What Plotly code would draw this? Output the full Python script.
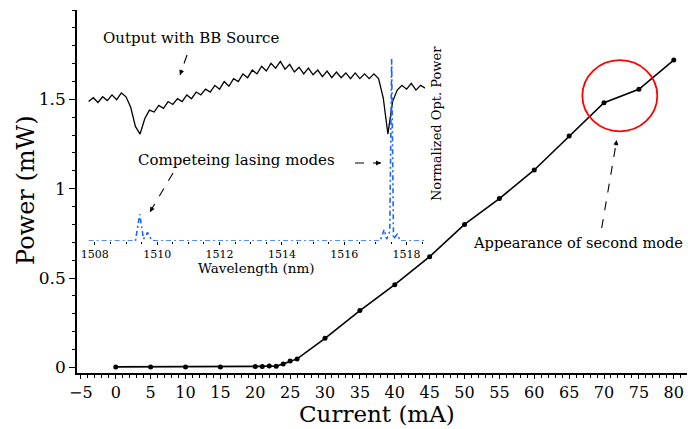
import plotly.graph_objects as go

# ---- main L-I curve ----
current_mA = [0, 5, 10, 15, 20, 21, 22, 23, 24, 25, 26, 30, 35, 40, 45, 50, 55, 60, 65, 70, 75, 80]
power_mW = [0.003, 0.003, 0.003, 0.003, 0.005, 0.006, 0.008, 0.007, 0.02, 0.036, 0.048, 0.163,
            0.318, 0.463, 0.62, 0.80, 0.945, 1.105, 1.295, 1.481, 1.556, 1.72]
x_ticks = list(range(-5, 81, 5))
y_ticks = [0, 0.5, 1, 1.5]

# ---- inset spectra ----
bb_wavelength = [1507.80 + 0.15 * k for k in range(73)]
bb_power = [0.73, 0.75, 0.725, 0.755, 0.735, 0.765, 0.74, 0.775, 0.755, 0.70,
            0.60, 0.56, 0.64, 0.685, 0.675, 0.71, 0.695, 0.73, 0.715, 0.745,
            0.73, 0.765, 0.745, 0.78, 0.765, 0.795, 0.78, 0.815, 0.795, 0.835,
            0.81, 0.85, 0.835, 0.875, 0.855, 0.895, 0.875, 0.915, 0.89, 0.93,
            0.905, 0.94, 0.90, 0.925, 0.885, 0.91, 0.875, 0.905, 0.87, 0.895,
            0.86, 0.89, 0.855, 0.885, 0.855, 0.88, 0.85, 0.88, 0.85, 0.875,
            0.85, 0.875, 0.85, 0.75, 0.56, 0.73, 0.79, 0.815, 0.795, 0.825,
            0.79, 0.815, 0.80]
laser_wavelength = [1507.80, 1509.30, 1509.44, 1509.56, 1509.69, 1509.82, 1509.95,
                    1517.15, 1517.28, 1517.36, 1517.46, 1517.52, 1517.58, 1517.70, 1517.80, 1518.60]
laser_power = [0.0, 0.0, 0.14, 0.01, 0.045, 0.005, 0.0,
               0.0, 0.06, 0.01, 0.05, 0.953, 0.01, 0.035, 0.0, 0.0]
wl_ticks = [1508, 1510, 1512, 1514, 1516, 1518]

W, H = 688, 429
ML, MR, MT, MB = 77, 1, 10, 56
PW, PH = W - ML - MR, H - MT - MB


def px(xp):
    return (xp - ML) / PW


def py(yp):
    return (H - MB - yp) / PH


SERIF = "DejaVu Serif"
fig = go.Figure()

fig.add_trace(go.Scatter(x=current_mA, y=power_mW, mode="lines+markers",
                         line=dict(color="black", width=1.6),
                         marker=dict(color="black", size=5), showlegend=False))

fig.add_trace(go.Scatter(x=bb_wavelength, y=bb_power, mode="lines", xaxis="x2", yaxis="y2",
                         line=dict(color="black", width=1.3), showlegend=False))
fig.add_trace(go.Scatter(x=laser_wavelength, y=laser_power, mode="lines", xaxis="x2", yaxis="y2",
                         line=dict(color="rgb(30,100,255)", width=1.6, dash="5px,3px,2px,3px"),
                         showlegend=False))

fig.update_layout(
    width=W, height=H,
    margin=dict(l=ML, r=MR, t=MT, b=MB),
    paper_bgcolor="white", plot_bgcolor="white",
    font=dict(family=SERIF, color="black"),
    xaxis=dict(range=[-5.56, 81.9], tickvals=x_ticks, showline=True, linecolor="black", linewidth=1.5,
               ticks="outside", ticklen=4, tickwidth=1.2, tickcolor="black",
               minor=dict(dtick=1, ticklen=3, ticks="outside", tickcolor="black"),
               showgrid=False, zeroline=False, tickfont=dict(family=SERIF, size=16)),
    yaxis=dict(range=[-0.031, 2.0], tickvals=y_ticks, showline=True, linecolor="black", linewidth=1.5,
               ticks="outside", ticklen=6, tickwidth=1.2, tickcolor="black",
               minor=dict(dtick=0.1, ticklen=3, ticks="outside", tickcolor="black"),
               showgrid=False, zeroline=False, tickfont=dict(family=SERIF, size=17)),
    xaxis2=dict(domain=[px(88), px(425)], anchor="y2", range=[1507.78, 1518.59], tickvals=wl_ticks,
                showline=False, ticks="outside", ticklen=3, tickcolor="black",
                minor=dict(dtick=0.5, ticklen=2, ticks="outside", tickcolor="black"),
                showgrid=False, zeroline=False, tickfont=dict(family=SERIF, size=11)),
    yaxis2=dict(domain=[py(241), py(50)], anchor="x2", range=[0, 1], visible=False),
)


def label(text, xp, yp, size, angle=0):
    return dict(text=text, x=px(xp), y=py(yp), xref="paper", yref="paper", xanchor="center",
                yanchor="middle", textangle=angle, showarrow=False, font=dict(size=size, family=SERIF))


ann = [
    label("Current (mA)", 377, 414, 23),
    label("Power (mW)", 26, 190, 24, -90),
    label("Wavelength (nm)", 255.5, 268, 13.5),
    label("Normalized Opt. Power", 437, 124, 13, -90),
    label("Output with BB Source", 191, 38, 15),
    label("Competeing lasing modes", 236, 160, 15),
    label("Appearance of second mode", 578, 243, 14.6),
]

# dashed pointer lines with arrow heads
pointers = [((187, 55), (180, 75)), ((173, 173), (150, 212)), ((355, 163), (381, 163)),
            ((601.7, 228), (616.7, 140))]
shapes = []
for (tx, ty), (hx, hy) in pointers:
    shapes.append(dict(type="line", xref="paper", yref="paper", x0=px(tx), y0=py(ty), x1=px(hx), y1=py(hy),
                       line=dict(color="black", width=1.1, dash="dash")))
    dx, dy = tx - hx, ty - hy
    L = (dx * dx + dy * dy) ** 0.5
    ann.append(dict(text="", x=px(hx), y=py(hy), xref="paper", yref="paper", showarrow=True,
                    ax=7 * dx / L, ay=7 * dy / L, arrowhead=2, arrowsize=0.9, arrowwidth=1.1,
                    arrowcolor="black"))

# red circle around the kink
shapes.append(dict(type="circle", xref="x", yref="y", x0=72.27 - 5.37, x1=72.27 + 5.37,
                   y0=1.52 - 0.199, y1=1.52 + 0.199, line=dict(color="red", width=1.8)))

fig.update_layout(annotations=ann, shapes=shapes)
fig.write_html("out.html", config={"displayModeBar": False},
               post_script="document.body.style.margin='0px';")
